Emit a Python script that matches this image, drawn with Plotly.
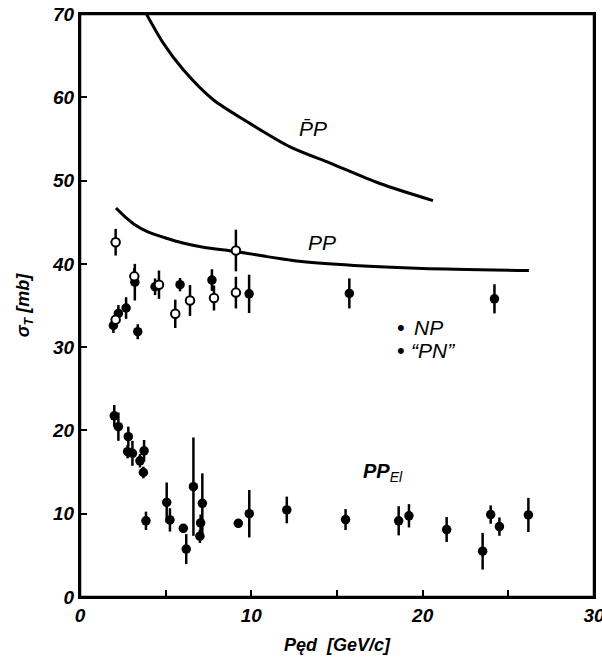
import plotly.graph_objects as go

# Curves (total cross sections)
pbarp_x = [3.85, 4.86, 6.03, 7.78, 9.73, 12.26, 14.6, 17.5, 20.6]
pbarp_y = [70.1, 66.5, 63.3, 59.7, 57.1, 54.05, 52.1, 49.65, 47.6]
pp_x = [2.1, 2.6, 3.2, 3.9, 5.0, 6.0, 7.2, 9.15, 12.8, 16.0, 20.0, 26.2]
pp_y = [46.7, 45.7, 44.7, 43.9, 43.1, 42.5, 42.0, 41.45, 40.3, 39.8, 39.45, 39.2]

# NP (filled) total cross section
np_x = [1.95, 2.24, 2.69, 3.2, 3.37, 4.38, 5.84, 7.7, 9.87, 15.72, 24.19]
np_y = [32.6, 34.05, 34.7, 37.8, 31.85, 37.25, 37.5, 38.05, 36.4, 36.45, 35.8]
np_e = [0.9, 1.0, 1.3, 2.2, 0.9, 1.0, 0.8, 1.3, 2.3, 1.8, 1.75]

# "PN" (open) total cross section
pn_x = [2.08, 2.08, 3.17, 4.61, 5.56, 6.42, 7.82, 9.1, 9.1]
pn_y = [42.6, 33.3, 38.5, 37.5, 34.0, 35.6, 35.9, 41.6, 36.55]
pn_e = [1.6, 0.8, 1.0, 1.7, 1.7, 1.85, 1.5, 2.5, 1.9]

# PP elastic
el_x = [2.0, 2.24, 2.82, 2.78, 3.06, 3.5, 3.74, 3.7, 3.85, 5.06, 5.25, 6.03, 6.2,
        6.62, 7.14, 7.04, 7.0, 9.24, 9.88, 12.07, 15.5, 18.6, 19.2, 21.4, 23.5,
        23.97, 24.48, 26.17]
el_y = [21.75, 20.45, 19.25, 17.45, 17.25, 16.35, 17.55, 14.95, 9.15, 11.35, 9.25,
        8.25, 5.75, 13.25, 11.25, 8.9, 7.3, 8.85, 10.0, 10.45, 9.3, 9.15, 9.75,
        8.1, 5.5, 9.9, 8.45, 9.85]
el_e = [1.3, 1.7, 1.2, 0.8, 1.5, 0.8, 1.3, 0.7, 1.1, 2.4, 1.4, 0.4, 1.8, 5.9, 3.6,
        1.0, 0.8, 0.5, 2.85, 1.6, 1.25, 1.75, 1.4, 1.5, 2.2, 1.1, 1.1, 2.05]

FONT = "Liberation Sans"
fig = go.Figure()

fig.add_trace(go.Scatter(x=pbarp_x, y=pbarp_y, mode="lines",
                         line=dict(color="black", width=3, shape="spline",
                                   smoothing=0.8)))
fig.add_trace(go.Scatter(x=pp_x, y=pp_y, mode="lines",
                         line=dict(color="black", width=3, shape="spline",
                                   smoothing=0.8)))

eb = lambda e: dict(type="data", array=e, visible=True, color="black",
                    thickness=2.5, width=0)
fig.add_trace(go.Scatter(x=el_x, y=el_y, mode="markers", error_y=eb(el_e),
                         marker=dict(color="black", size=9.5)))
fig.add_trace(go.Scatter(x=np_x, y=np_y, mode="markers", error_y=eb(np_e),
                         marker=dict(color="black", size=9.5)))
fig.add_trace(go.Scatter(x=pn_x, y=pn_y, mode="markers", error_y=eb(pn_e),
                         marker=dict(color="white", size=8.5,
                                     line=dict(color="black", width=2))))

lab = dict(family=FONT, size=21, color="black", style="italic")
fig.add_annotation(x=13.6, y=56.3, text="P̄P", showarrow=False, font=lab)
fig.add_annotation(x=14.1, y=42.6, text="PP", showarrow=False, font=lab)
fig.add_annotation(x=18.75, y=32.4, text="•", showarrow=False, xanchor="center",
                   font=dict(family=FONT, size=22, color="black"))
fig.add_annotation(x=19.4, y=32.4, text="NP", showarrow=False, xanchor="left",
                   font=lab)
fig.add_annotation(x=18.75, y=29.6, text="•", showarrow=False, xanchor="center",
                   font=dict(family=FONT, size=22, color="black"))
fig.add_annotation(x=19.2, y=29.6, text="“PN”", showarrow=False, xanchor="left",
                   font=lab)
fig.add_annotation(x=17.7, y=14.9, text="<b>PP</b><sub>El</sub>", showarrow=False,
                   font=dict(family=FONT, size=20, color="black", style="italic"))

# plot frame
fig.add_shape(type="rect", xref="paper", yref="paper", x0=0, y0=0, x1=1, y1=1,
              line=dict(color="black", width=2.5), layer="above")

tickfont = dict(family=FONT, size=19, color="black", style="italic", weight="bold")
titlefont = dict(family=FONT, size=18, color="black", style="italic", weight="bold")
fig.update_xaxes(range=[0, 30], dtick=10, tick0=0,
                 ticks="inside", ticklen=7, tickwidth=1.5, tickcolor="black",
                 minor=dict(dtick=5, ticks="inside", ticklen=7, tickwidth=1.5,
                            tickcolor="black", showgrid=False),
                 showline=True, linecolor="black", linewidth=2, mirror=True,
                 showgrid=False, zeroline=False, tickfont=tickfont,
                 automargin=False, ticklabeloverflow="allow",
                 title=dict(text="Pęd  [GeV/c]", standoff=14, font=titlefont))
fig.update_yaxes(range=[0, 70], dtick=10, tick0=0,
                 ticks="inside", ticklen=7, tickwidth=1.5, tickcolor="black",
                 showline=True, linecolor="black", linewidth=2, mirror=True,
                 showgrid=False, zeroline=False, tickfont=tickfont,
                 automargin=False, ticklabeloverflow="allow",
                 title=dict(text="σ<sub>T</sub> [mb]", standoff=18, font=titlefont))

fig.update_layout(width=602, height=666, showlegend=False,
                  paper_bgcolor="white", plot_bgcolor="white",
                  margin=dict(l=80, r=8, t=14, b=69))

fig.write_html("out.html", config={"displayModeBar": False},
               post_script="document.body.style.margin='0';"
                           "document.body.style.overflow='hidden';")
